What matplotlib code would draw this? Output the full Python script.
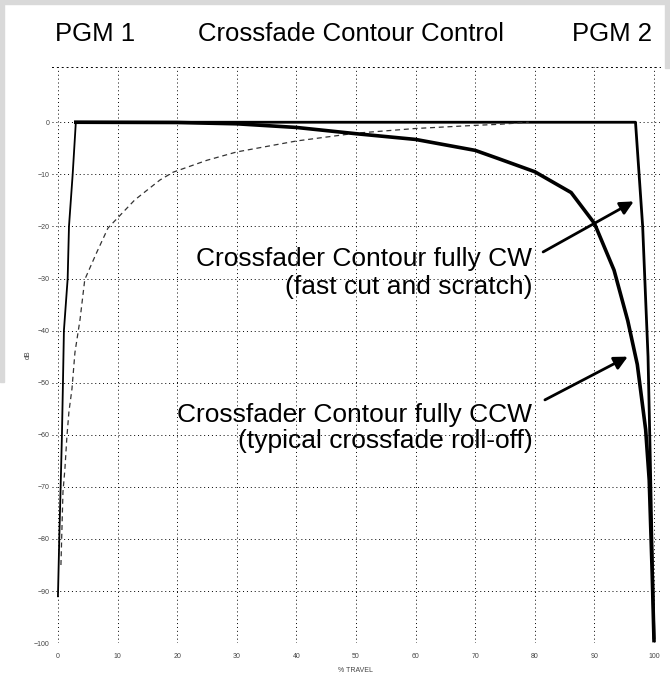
import matplotlib
matplotlib.use("Agg")
import matplotlib.pyplot as plt
from matplotlib.patches import Rectangle

plt.rcParams['font.family'] = ['Liberation Sans', 'DejaVu Sans']

# % travel vs dB
cw_left_x = [0, 0.22, 0.45, 0.67, 0.84, 1.0, 1.63, 1.85, 2.47, 3.0]
cw_left_y = [-91, -80, -70, -60, -50, -40, -30, -20, -10, 0]
cw_right_x = [3.0, 96.9, 97.5, 98.1, 98.6, 99.0, 99.4, 99.9, 100]
cw_right_y = [0, 0, -10, -20, -34, -45, -66, -93.7, -99]

ccw_left_x = [0.5, 0.67, 0.84, 1.17, 1.5, 1.84, 2.35, 2.85, 3.7, 4.5, 6.5, 8.4,
              12.9, 17.1, 19.3, 25, 30, 40, 50, 60, 70, 74, 79]
ccw_left_y = [-85, -78, -71, -66.5, -60.4, -55.6, -51.2, -44.2, -37.9, -30.2, -25, -20.3,
              -14.9, -11.1, -9.6, -7.3, -5.7, -3.6, -2.1, -1.2, -0.6, -0.4, 0]
ccw_right_x = [3, 20, 30, 40, 50, 60, 70, 73.7, 80, 86.1, 90, 93.3, 95.6, 97.2, 98.6, 99.2,
               99.7, 100]
ccw_right_y = [0, -0.05, -0.3, -1.0, -2.2, -3.3, -5.4, -6.9, -9.5, -13.5, -19.4, -28.4, -38.1,
               -46.5, -59, -68.7, -86.7, -99.5]

x_ticks = [0, 10, 20, 30, 40, 50, 60, 70, 80, 90, 100]
y_ticks = [0, -10, -20, -30, -40, -50, -60, -70, -80, -90, -100]

fig = plt.figure(figsize=(6.70, 6.77), dpi=100)

# grey page border of the scan
for x0, y0, w, h in [(0, 0.994, 1, 0.006), (0, 0.436, 0.006, 0.564), (0.993, 0.9, 0.007, 0.1)]:
    fig.patches.append(Rectangle((x0, y0), w, h, transform=fig.transFigure,
                                 color='#d9d9d9', zorder=0))

ax = fig.add_axes([0.0776, 0.050, 0.9074, 0.851])
ax.set_xlim(-1, 101)
ax.set_ylim(-100, 10.6)

for s in ['left', 'right', 'bottom']:
    ax.spines[s].set_visible(False)
ax.spines['top'].set_linestyle((0, (1, 4)))
ax.spines['top'].set_linewidth(0.7)

ax.set_xticks(x_ticks)
ax.set_yticks(y_ticks)
ax.tick_params(length=0, labelsize=5, labelcolor='#444444')
ax.tick_params(axis='x', pad=7)
ax.tick_params(axis='y', pad=2)
ax.grid(True, color='black', linestyle=(0, (1, 3)), linewidth=0.7)
ax.set_xlabel('% TRAVEL', fontsize=5, color='#444444', labelpad=5)
ax.set_ylabel('dB', fontsize=5, color='#444444', labelpad=1)

ax.plot(cw_left_x, cw_left_y, color='black', lw=1.3)
ax.plot(cw_right_x, cw_right_y, color='black', lw=2.0)
ax.plot(ccw_left_x, ccw_left_y, color='#333333', lw=0.9, linestyle=(0, (4, 3)))
ax.plot(ccw_right_x, ccw_right_y, color='black', lw=2.6)

ax.text(79.6, -26.3, 'Crossfader Contour fully CW', fontsize=19, ha='right', va='center')
ax.text(79.6, -31.6, '(fast cut and scratch)', fontsize=19, ha='right', va='center')
ax.text(79.6, -56.2, 'Crossfader Contour fully CCW', fontsize=19, ha='right', va='center')
ax.text(79.6, -61.2, '(typical crossfade roll-off)', fontsize=19, ha='right', va='center')

arrow = dict(arrowstyle='-|>', color='black', lw=2, mutation_scale=20, shrinkA=0, shrinkB=0)
ax.annotate('', xy=(96.6, -15.2), xytext=(81.4, -24.9), arrowprops=arrow)
ax.annotate('', xy=(95.6, -45.0), xytext=(81.7, -53.3), arrowprops=arrow)

fig.text(0.082, 0.950, 'PGM 1', fontsize=18.5, ha='left', va='center')
fig.text(0.524, 0.950, 'Crossfade Contour Control', fontsize=18.5, ha='center', va='center')
fig.text(0.973, 0.950, 'PGM 2', fontsize=18.5, ha='right', va='center')

fig.savefig('out.png', dpi=100)
